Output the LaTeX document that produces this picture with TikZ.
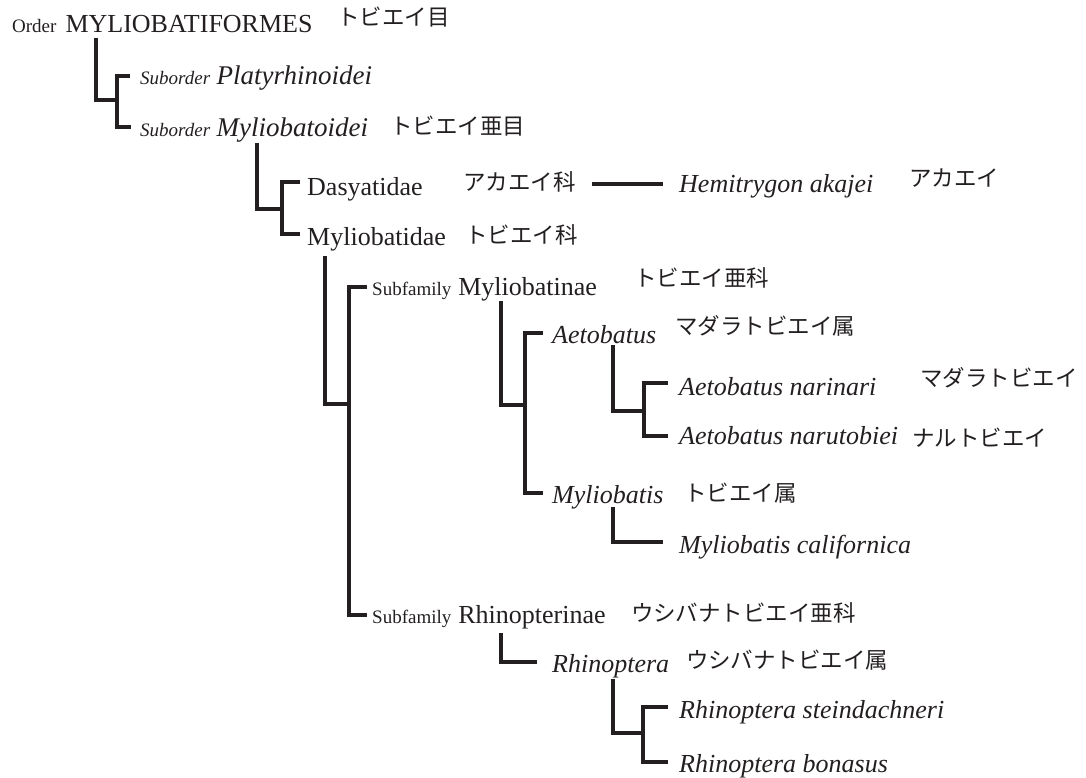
\documentclass[tikz,border=0pt]{standalone}
\usepackage{fontspec}
\setmainfont{Liberation Serif}
\newfontfamily\jpfont{Noto Sans CJK JP}
\definecolor{ink}{HTML}{231F20}
\newcommand\smz{\fontsize{19}{22}\selectfont}
\newcommand\mnz{\fontsize{26}{30}\selectfont}
\newcommand\sbz{\fontsize{27}{30}\selectfont}
\newcommand\jpz{\jpfont\fontsize{22.5}{26}\selectfont}
\begin{document}
\begin{tikzpicture}[x=1pt,y=-1pt,
  tx/.style={anchor=base west, inner sep=0pt, text=ink, font=\mnz},
  jt/.style={anchor=base west, inner sep=0pt, text=ink, font=\jpz},
  br/.style={draw=ink, line width=3.2pt, line join=miter}]
\useasboundingbox (0,0) rectangle (1086,778);
% nodes
\node[tx] (ord) at (12,33) {{\smz Order}\hspace{9pt}MYLIOBATIFORMES};
\node[jt] (ordj) at (337,26) {トビエイ目};
\node[tx] (plat) at (140,85) {\itshape{\smz Suborder} {\sbz Platyrhinoidei}};
\node[tx] (mylo) at (140,137) {\itshape{\smz Suborder} {\sbz Myliobatoidei}};
\node[jt] (myloj) at (390,135) {トビエイ亜目};
\node[tx] (das) at (307,195) {Dasyatidae};
\node[jt] (dasj) at (463,190) {アカエイ科};
\node[tx] (hemi) at (679,193) {\itshape Hemitrygon akajei};
\node[jt] (hemij) at (909,186) {アカエイ};
\node[tx] (myl) at (307,245) {Myliobatidae};
\node[jt] (mylj) at (465,243) {トビエイ科};
\node[tx] (myn) at (372,295) {{\smz Subfamily}\hspace{7pt}Myliobatinae};
\node[jt] (mynj) at (634,286) {トビエイ亜科};
\node[tx] (aet) at (552,343) {\itshape Aetobatus};
\node[jt] (aetj) at (675,334) {マダラトビエイ属};
\node[tx] (anar) at (679,395) {\itshape Aetobatus narinari};
\node[jt] (anarj) at (920,386) {マダラトビエイ};
\node[tx] (anaru) at (679,444) {\itshape Aetobatus narutobiei};
\node[jt] (anaruj) at (912,446) {ナルトビエイ};
\node[tx] (mys) at (552,503) {\itshape Myliobatis};
\node[jt] (mysj) at (684,501) {トビエイ属};
\node[tx] (myc) at (679,553) {\itshape Myliobatis californica};
\node[tx] (rhn) at (372,623) {{\smz Subfamily}\hspace{7pt}Rhinopterinae};
\node[jt] (rhnj) at (631,621) {ウシバナトビエイ亜科};
\node[tx] (rh) at (552,672) {\itshape Rhinoptera};
\node[jt] (rhj) at (686,668) {ウシバナトビエイ属};
\node[tx] (rst) at (679,718) {\itshape Rhinoptera steindachneri};
\node[tx] (rbo) at (679,772) {\itshape Rhinoptera bonasus};
% junctions
\coordinate (k1) at (117,100);
\coordinate (k2) at (282,209);
\coordinate (k3) at (349,404);
\coordinate (k4) at (525,405);
\coordinate (k5) at (644,411);
\coordinate (k6) at (643,733);
% connectors
\draw[br] ([xshift=84pt,yshift=-5pt]ord.base west) |- (k1);
\draw[br] ([xshift=-10pt,yshift=9pt]plat.base west) -| (k1) |- ([xshift=-9pt,yshift=10pt]mylo.base west);
\draw[br] ([xshift=117pt,yshift=-6pt]mylo.base west) |- (k2);
\draw[br] ([xshift=-7pt,yshift=13pt]das.base west) -| (k2) |- ([xshift=-7pt,yshift=11pt]myl.base west);
\draw[br] ([xshift=16pt,yshift=6pt]dasj.base east) -- ([xshift=-16pt,yshift=9pt]hemi.base west);
\draw[br] ([xshift=18pt,yshift=-11pt]myl.base west) |- (k3);
\draw[br] ([xshift=-5pt,yshift=8pt]myn.base west) -| (k3) |- ([xshift=-5pt,yshift=8pt]rhn.base west);
\draw[br] ([xshift=129pt,yshift=-6pt]myn.base west) |- (k4);
\draw[br] ([xshift=-9pt,yshift=10pt]aet.base west) -| (k4) |- ([xshift=-9pt,yshift=10pt]mys.base west);
\draw[br] ([xshift=61pt,yshift=-2pt]aet.base west) |- (k5);
\draw[br] ([xshift=-11pt,yshift=12pt]anar.base west) -| (k5) |- ([xshift=-11pt,yshift=8pt]anaru.base west);
\draw[br] ([xshift=61pt,yshift=-4pt]mys.base west) |- ([xshift=-16pt,yshift=11pt]myc.base west);
\draw[br] ([xshift=129pt,yshift=-10pt]rhn.base west) |- ([xshift=-15pt,yshift=10pt]rh.base west);
\draw[br] ([xshift=61pt,yshift=-7pt]rh.base west) |- (k6);
\draw[br] ([xshift=-11pt,yshift=11pt]rst.base west) -| (k6) |- ([xshift=-11pt,yshift=10pt]rbo.base west);
\end{tikzpicture}
\end{document}
